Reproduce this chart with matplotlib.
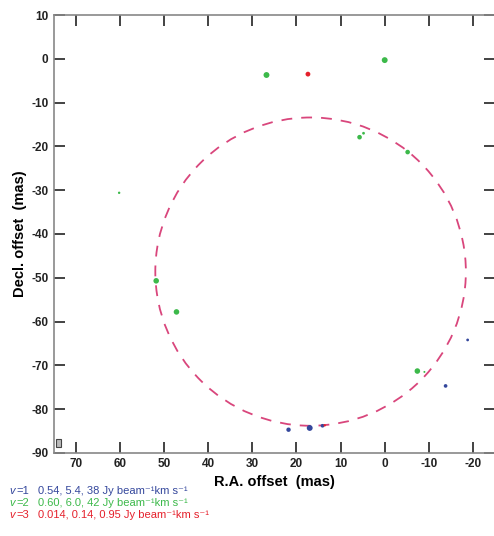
import numpy as np
import matplotlib
matplotlib.use('Agg')
import matplotlib.pyplot as plt
from matplotlib.patches import Circle, Rectangle

plt.rcParams['font.family'] = ['Liberation Sans', 'DejaVu Sans']
plt.rcParams['axes.unicode_minus'] = False

# maser spots (R.A. offset, Decl. offset, marker size)
v1_x = [-18.8, -13.8, 21.8, 17.0, 14.1]
v1_y = [-64.2, -74.7, -84.7, -84.3, -83.8]
v1_s = [4, 7, 10, 18, 7]

v2_x = [26.8, 0.0, 5.7, 4.8, -5.2, 60.2, 51.8, 47.2, -7.4, -9.0]
v2_y = [-3.7, -0.3, -17.9, -17.0, -21.3, -30.6, -50.7, -57.8, -71.3, -71.5]
v2_s = [18, 18, 11, 4, 11, 3, 16, 16, 16, 2]

v3_x = [17.4, 13.6]
v3_y = [-3.5, -83.7]
v3_s = [12, 3]

ring_center = (16.8, -48.6)
ring_radius = 35.2

legend_tags = ['=1', '=2', '=3']
legend_levels = ['0.54, 5.4, 38 Jy beam\u207b\u00b9km s\u207b\u00b9',
                 '0.60, 6.0, 42 Jy beam\u207b\u00b9km s\u207b\u00b9',
                 '0.014, 0.14, 0.95 Jy beam\u207b\u00b9km s\u207b\u00b9']

blue = '#34479c'
green = '#3cb94a'
red = '#e5202b'
ring_col = '#d9467c'

fig = plt.figure(figsize=(4.94, 5.36), dpi=100)
ax = fig.add_axes([0.109, 0.155, 0.893, 0.817])

ax.add_patch(Circle(ring_center, ring_radius, fill=False, ec=ring_col,
                    lw=1.3, ls=(0, (6, 5))))

ax.scatter(v2_x, v2_y, s=v2_s, c=green, edgecolors='none', zorder=3)
ax.scatter(v1_x, v1_y, s=v1_s, c=blue, edgecolors='none', zorder=3)
ax.scatter(v3_x, v3_y, s=v3_s, c=red, edgecolors='none', zorder=4)

# beam box
ax.add_patch(Rectangle((73.3, -88.6), 1.2, 1.8, fc='#bbbbbb', ec='#444444', lw=0.8))

ax.set_xlim(75, -25)
ax.set_ylim(-90, 10)
ax.set_xticks(np.arange(70, -30, -10))
ax.set_yticks(np.arange(-90, 20, 10))
ax.tick_params(direction='in', length=8, width=1.2, top=True, right=True,
               colors='#222222', labelsize=8.5, pad=4)
for lab in ax.get_xticklabels() + ax.get_yticklabels():
    lab.set_fontweight('bold')
for sp in ax.spines.values():
    sp.set_color('#888888')
    sp.set_linewidth(1.2)

ax.set_xlabel('R.A. offset  (mas)', fontsize=10.5, fontweight='bold', labelpad=3)
ax.set_ylabel('Decl. offset  (mas)', fontsize=10.5, fontweight='bold', labelpad=3)

for tag, lev, col, yy in zip(legend_tags, legend_levels, [blue, green, red],
                             [0.084, 0.062, 0.040]):
    fig.text(0.02, yy, 'v', color=col, fontsize=8, va='center', style='italic')
    fig.text(0.034, yy, tag, color=col, fontsize=8, va='center')
    fig.text(0.077, yy, lev, color=col, fontsize=8, va='center')

fig.savefig('out.png', dpi=100)
